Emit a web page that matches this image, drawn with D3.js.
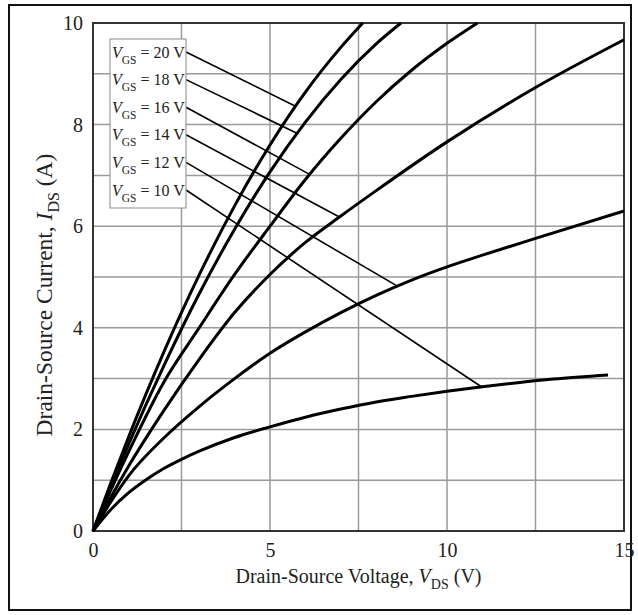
<!DOCTYPE html>
<html>
<head>
<meta charset="utf-8">
<script src="https://cdn.jsdelivr.net/npm/d3@7"></script>
<style>
  body { margin: 0; background: #fff; }
  svg { display: block; font-family: "Liberation Serif", "DejaVu Serif", serif; }
</style>
</head>
<body>
<svg id="chart" width="638" height="615"></svg>
<script>
// I-V curves, [V_DS (V), I_DS (A)]
const curve20V = [[0,0],[0.5,0.94],[1,1.84],[2,3.52],[3,5.04],[4,6.4],[5,7.6],[6,8.64],[7,9.52],[7.62,10]];
const curve18V = [[0,0],[0.5,0.87],[1,1.7],[2,3.25],[3,4.67],[4,5.94],[5,7.07],[6,8.05],[7,8.89],[8,9.59],[8.7,10]];
const curve16V = [[0,0],[0.5,0.8],[1,1.55],[2,2.93],[3,4.0],[4,5.05],[5,6.0],[6,6.92],[7,7.73],[8,8.45],[9,9.07],[10,9.6],[10.86,10]];
const curve14V = [[0,0],[0.5,0.66],[1,1.27],[2,2.37],[3,3.38],[4,4.3],[5,5.05],[6,5.68],[7,6.2],[8,6.7],[10,7.66],[12.5,8.73],[15,9.67]];
const curve12V = [[0,0],[0.5,0.57],[1,1.08],[2,1.83],[3,2.45],[4,3.0],[5,3.5],[6,3.92],[7,4.3],[8,4.64],[9,4.94],[10,5.2],[11,5.43],[12.5,5.76],[15,6.3]];
const curve10V = [[0,0],[0.5,0.42],[1,0.75],[1.5,1.01],[2,1.23],[2.5,1.41],[3,1.57],[4,1.84],[5,2.05],[6,2.24],[7,2.4],[8,2.54],[9,2.65],[10,2.75],[11,2.84],[12,2.92],[13,2.99],[14.55,3.07]];

const series = [curve20V, curve18V, curve16V, curve14V, curve12V, curve10V];
const gateLabels = ["20", "18", "16", "14", "12", "10"];
// where each label's leader line touches its curve [V, I]
const leaderEnds = [[5.72,8.36],[5.76,7.83],[6.12,7.02],[6.96,6.18],[8.6,4.82],[10.97,2.84]];

const xTicks = [0, 5, 10, 15];
const yTicks = [0, 2, 4, 6, 8, 10];
const xGrid = [2.5, 5, 7.5, 10, 12.5];
const yGrid = [1, 2, 3, 4, 5, 6, 7, 8, 9];

const svg = d3.select("#chart");
const plot = { left: 93, right: 624, top: 23, bottom: 531 };

const x = d3.scaleLinear().domain([0, 15]).range([plot.left, plot.right]);
const y = d3.scaleLinear().domain([0, 10]).range([plot.bottom, plot.top]);

// outer frame
svg.append("rect")
    .attr("x", 9).attr("y", 5)
    .attr("width", 622).attr("height", 605)
    .attr("fill", "none")
    .attr("stroke", "#111")
    .attr("stroke-width", 2);

// grid
svg.append("g").selectAll("line").data(xGrid).join("line")
    .attr("x1", d => x(d)).attr("x2", d => x(d))
    .attr("y1", plot.top).attr("y2", plot.bottom)
    .attr("stroke", "#9a9a9a").attr("stroke-width", 1.5);

svg.append("g").selectAll("line").data(yGrid).join("line")
    .attr("x1", plot.left).attr("x2", plot.right)
    .attr("y1", d => y(d)).attr("y2", d => y(d))
    .attr("stroke", "#9a9a9a").attr("stroke-width", 1.5);

// plot box
svg.append("rect")
    .attr("x", plot.left).attr("y", plot.top)
    .attr("width", plot.right - plot.left).attr("height", plot.bottom - plot.top)
    .attr("fill", "none")
    .attr("stroke", "#333")
    .attr("stroke-width", 2);

// axes (labels only, the box draws the lines)
const xAxis = svg.append("g")
    .attr("transform", `translate(0,${plot.bottom})`)
    .call(d3.axisBottom(x).tickValues(xTicks).tickSize(0).tickPadding(12));
const yAxis = svg.append("g")
    .attr("transform", `translate(${plot.left},0)`)
    .call(d3.axisLeft(y).tickValues(yTicks).tickSize(0).tickPadding(10));
[xAxis, yAxis].forEach(a => {
    a.select(".domain").remove();
    a.selectAll("text")
        .attr("font-family", "Liberation Serif")
        .attr("font-size", 20)
        .attr("fill", "#222");
});

// curves
const line = d3.line()
    .x(d => x(d[0]))
    .y(d => y(d[1]))
    .curve(d3.curveMonotoneX);

svg.append("g").selectAll("path").data(series).join("path")
    .attr("d", line)
    .attr("fill", "none")
    .attr("stroke", "#000")
    .attr("stroke-width", 3);

// legend box with leader lines
const legend = { x: 110, y: 39, w: 76, h: 169, row0: 52, step: 27.6 };

svg.append("g").selectAll("line").data(leaderEnds).join("line")
    .attr("x1", legend.x + legend.w)
    .attr("y1", (d, i) => legend.row0 + i * legend.step)
    .attr("x2", d => x(d[0]))
    .attr("y2", d => y(d[1]))
    .attr("stroke", "#000")
    .attr("stroke-width", 1.6);

svg.append("rect")
    .attr("x", legend.x).attr("y", legend.y)
    .attr("width", legend.w).attr("height", legend.h)
    .attr("fill", "#fff")
    .attr("stroke", "#888")
    .attr("stroke-width", 1);

const labels = svg.append("g").selectAll("text").data(gateLabels).join("text")
    .attr("x", legend.x + 2)
    .attr("y", (d, i) => legend.row0 + 5.5 + i * legend.step)
    .attr("font-size", 16)
    .attr("fill", "#222");
labels.append("tspan").attr("font-style", "italic").text("V");
labels.append("tspan").attr("font-size", 11.5).attr("dy", 6).text("GS");
labels.append("tspan").attr("dy", -6).text(d => ` = ${d} V`);

// axis titles
const xTitle = svg.append("text")
    .attr("x", (plot.left + plot.right) / 2)
    .attr("y", 583)
    .attr("text-anchor", "middle")
    .attr("font-size", 20)
    .attr("fill", "#222");
xTitle.append("tspan").text("Drain-Source Voltage, ");
xTitle.append("tspan").attr("font-style", "italic").text("V");
xTitle.append("tspan").attr("font-size", 14).attr("dy", 6).text("DS");
xTitle.append("tspan").attr("dy", -6).text(" (V)");

const yTitle = svg.append("text")
    .attr("transform", "translate(52,295) rotate(-90)")
    .attr("text-anchor", "middle")
    .attr("font-size", 23.5)
    .attr("fill", "#222");
yTitle.append("tspan").text("Drain-Source Current, ");
yTitle.append("tspan").attr("font-style", "italic").text("I");
yTitle.append("tspan").attr("font-size", 16).attr("dy", 7).text("DS");
yTitle.append("tspan").attr("dy", -7).text(" (A)");
</script>
</body>
</html>
